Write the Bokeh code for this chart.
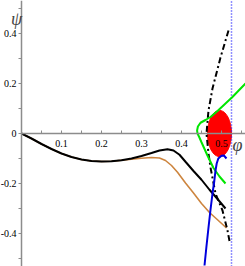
from bokeh.plotting import figure
from bokeh.models import FixedTicker, Label, Range1d
from bokeh.embed import file_html
from bokeh.resources import INLINE

# ---- data ----
x_ticks = [0.1, 0.2, 0.3, 0.4, 0.5]
x_tick_labels = ["0.1", "0.2", "0.3", "0.4", "0.5"]
x_minor = [0.05, 0.15, 0.25, 0.35, 0.45, 0.55]
y_ticks = [-0.4, -0.2, 0.0, 0.2, 0.4]
y_tick_labels = ["-0.4", "-0.2", "0", "0.2", "0.4"]
y_minor = [-0.5, -0.3, -0.1, 0.1, 0.3, 0.5]

black_x = [0, 0.025, 0.05, 0.075, 0.1, 0.125, 0.15, 0.175, 0.2, 0.225, 0.25,
           0.275, 0.3, 0.325, 0.345, 0.365, 0.38, 0.395, 0.41, 0.43, 0.45,
           0.47, 0.49, 0.51]
black_y = [0, -0.02, -0.042, -0.062, -0.08, -0.094, -0.104, -0.11, -0.112,
           -0.111, -0.107, -0.1, -0.09, -0.078, -0.068, -0.063, -0.068,
           -0.085, -0.113, -0.15, -0.185, -0.225, -0.262, -0.3]

orange_x = [0, 0.025, 0.05, 0.075, 0.1, 0.125, 0.15, 0.175, 0.2, 0.225, 0.25,
            0.275, 0.3, 0.325, 0.345, 0.36, 0.375, 0.39, 0.41, 0.43, 0.45,
            0.47, 0.49, 0.5125]
orange_y = [0, -0.02, -0.042, -0.062, -0.08, -0.094, -0.104, -0.11, -0.112,
            -0.111, -0.107, -0.103, -0.099, -0.096, -0.098, -0.108, -0.128,
            -0.155, -0.198, -0.238, -0.28, -0.316, -0.345, -0.378]

dashdot_x = [0.5175, 0.4975, 0.4775, 0.4675, 0.4625, 0.4675, 0.4725, 0.485,
             0.5025, 0.515, 0.52]
dashdot_y = [0.412, 0.304, 0.18, 0.092, 0.0, -0.08, -0.136, -0.24, -0.308,
             -0.388, -0.43]

green_x = [0.56, 0.543, 0.528, 0.51, 0.49, 0.4725, 0.46, 0.4475, 0.441, 0.439,
           0.44, 0.4445, 0.45, 0.457, 0.464, 0.47, 0.48, 0.495, 0.51]
green_y = [0.2, 0.172, 0.147, 0.12, 0.09, 0.066, 0.054, 0.043, 0.028, 0.012,
           0.0, -0.015, -0.035, -0.06, -0.085, -0.105, -0.138, -0.172, -0.2]

blue_x = [0.4575, 0.4625, 0.4675, 0.4725, 0.4775, 0.482, 0.485, 0.488, 0.492,
          0.5, 0.506, 0.5125]
blue_y = [-0.528, -0.45, -0.376, -0.305, -0.24, -0.19, -0.148, -0.12, -0.1,
          -0.089, -0.088, -0.1]

blob_x = [0.495]
blob_y = [0.0]
blob_w = [0.06]
blob_h = [0.185]

vline_x = 0.525

X0, X1 = -0.0525, 0.56
Y0, Y1 = -0.532, 0.532

# ---- figure ----
p = figure(width=245, height=266, output_backend="svg", toolbar_location=None,
           x_range=Range1d(X0, X1), y_range=Range1d(Y0, Y1),
           min_border=0)
p.outline_line_color = None
p.grid.visible = False
p.background_fill_color = "white"

axis_color = "#8c8c8c"
font = "Liberation Serif"

xa = p.xaxis[0]
xa.fixed_location = 0
xa.bounds = (0, X1)
xa.ticker = FixedTicker(ticks=x_ticks, minor_ticks=x_minor)
xa.major_label_overrides = {t: s for t, s in zip(x_ticks, x_tick_labels)}
xa.axis_line_color = axis_color
xa.axis_line_width = 1.5
xa.major_tick_line_color = axis_color
xa.minor_tick_line_color = axis_color
xa.major_tick_in = 3
xa.major_tick_out = 0
xa.minor_tick_in = 3
xa.minor_tick_out = 0
xa.major_label_standoff = 6
xa.major_label_text_font = font
xa.major_label_text_font_size = "10px"
xa.major_label_text_color = "black"

ya = p.yaxis[0]
ya.fixed_location = 0
ya.ticker = FixedTicker(ticks=y_ticks, minor_ticks=y_minor)
ya.major_label_overrides = {t: s for t, s in zip(y_ticks, y_tick_labels)}
ya.axis_line_color = axis_color
ya.axis_line_width = 1.5
ya.major_tick_line_color = axis_color
ya.minor_tick_line_color = axis_color
ya.major_tick_in = 0
ya.major_tick_out = 3
ya.minor_tick_in = 0
ya.minor_tick_out = 3
ya.major_label_standoff = 2
ya.major_label_text_font = font
ya.major_label_text_font_size = "10px"
ya.major_label_text_color = "black"

# red blob
p.ellipse(x=blob_x, y=blob_y, width=blob_w, height=blob_h,
          fill_color="#ff0000", line_color="#ff0000")

# dotted vertical line
p.line([vline_x, vline_x], [Y0, Y1], line_color="#2222ff",
       line_width=1.5, line_dash="1 2")

p.line(orange_x, orange_y, line_color="#cd853f", line_width=1.6)
p.line(black_x, black_y, line_color="black", line_width=2)
p.line(dashdot_x, dashdot_y, line_color="black", line_width=2,
       line_dash="6 3 2 3")
p.line(green_x, green_y, line_color="#00e600", line_width=2)
p.line(blue_x, blue_y, line_color="#0000dd", line_width=2)

p.add_layout(Label(x=-0.0125, y=0.46, text="ψ", text_font=font,
                   text_font_style="italic", text_font_size="18px",
                   text_align="center", text_baseline="middle"))
p.add_layout(Label(x=0.54, y=-0.045, text="φ", text_font=font,
                   text_font_style="italic", text_font_size="18px",
                   text_align="center", text_baseline="middle"))

open("out.html", "w").write(file_html(p, INLINE))
